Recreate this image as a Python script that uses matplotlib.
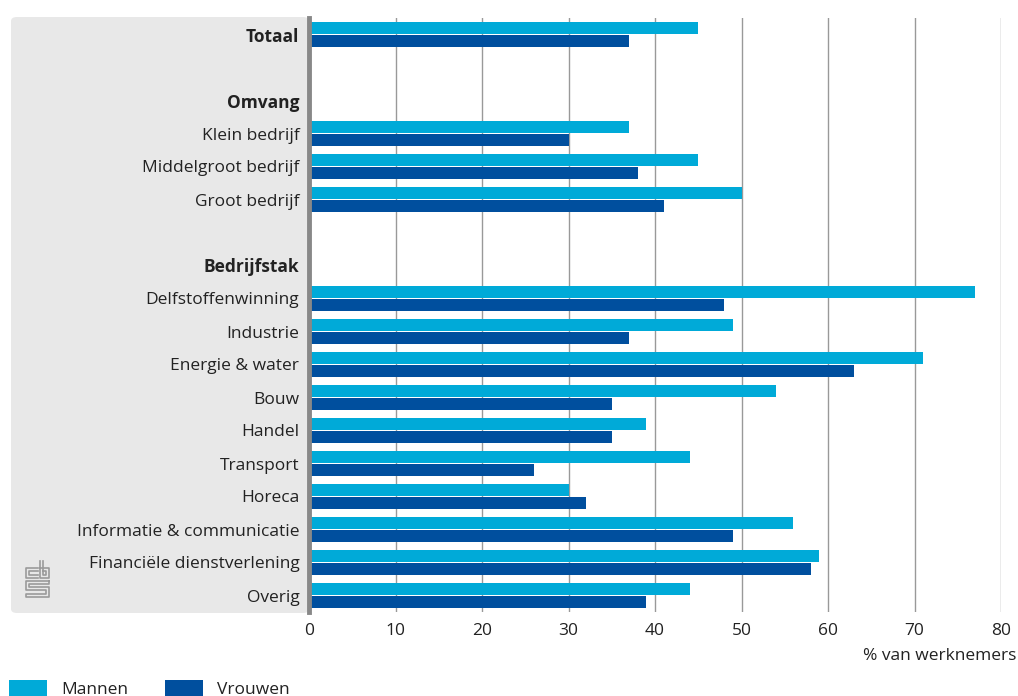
import matplotlib
matplotlib.use("Agg")
import matplotlib.pyplot as plt
from matplotlib.patches import FancyBboxPatch
from matplotlib.lines import Line2D
import numpy as np

plt.rcParams['font.family'] = ['Open Sans', 'DejaVu Sans']

# rows top to bottom; '' = empty row, headers in bold
labels = ['Totaal', '', 'Omvang', 'Klein bedrijf', 'Middelgroot bedrijf', 'Groot bedrijf',
          '', 'Bedrijfstak', 'Delfstoffenwinning', 'Industrie', 'Energie & water', 'Bouw',
          'Handel', 'Transport', 'Horeca', 'Informatie & communicatie',
          'Financiële dienstverlening', 'Overig']
headers = ['Totaal', 'Omvang', 'Bedrijfstak']
mannen = [45, None, None, 37, 45, 50, None, None, 77, 49, 71, 54, 39, 44, 30, 56, 59, 44]
vrouwen = [37, None, None, 30, 38, 41, None, None, 48, 37, 63, 35, 35, 26, 32, 49, 58, 39]

c_man = '#00aad8'
c_vrouw = '#004f9e'

W, H = 1018, 696
fig = plt.figure(figsize=(W / 100, H / 100), dpi=100)

# grey label panel
panel = FancyBboxPatch((11 / W, 1 - 613 / H), (309 - 11) / W, (613 - 17) / H,
                       boxstyle='round,pad=0,rounding_size=0.006',
                       transform=fig.transFigure, facecolor='#e8e8e8',
                       edgecolor='none', zorder=-5)
fig.patches.append(panel)

ax = fig.add_axes([309 / W, 1 - 612 / H, (1001 - 309) / W, (612 - 18) / H])
ax.set_facecolor('none')

y = np.arange(len(labels))
bh = 0.38
for i in range(len(labels)):
    if mannen[i] is not None:
        ax.barh(y[i] - 0.2, mannen[i], height=bh, color=c_man, zorder=3,
                label='Mannen' if i == 0 else None)
        ax.barh(y[i] + 0.2, vrouwen[i], height=bh, color=c_vrouw, zorder=3,
                label='Vrouwen' if i == 0 else None)

ax.set_xlim(0, 80)
ax.set_ylim(len(labels) - 0.5, -0.5)
ax.set_xticks(range(0, 81, 10))
ax.set_yticks(y)
ax.set_yticklabels(labels)
for t in ax.get_yticklabels():
    if t.get_text() in headers:
        t.set_fontweight('bold')
        t.set_color('#111111')
ax.tick_params(axis='y', length=0, pad=7, labelsize=12.5, labelcolor='#222222')
ax.tick_params(axis='x', length=0, pad=8, labelsize=12.5, labelcolor='#222222')
ax.grid(axis='x', color='#999999', linewidth=1.0, zorder=1)
for s in ['top', 'right', 'bottom']:
    ax.spines[s].set_visible(False)
ax.spines['left'].set_color('#888888')
ax.spines['left'].set_linewidth(3.5)
ax.spines['left'].set_zorder(4)

fig.text(1016 / W, 1 - 656 / H, '% van werknemers', ha='right', va='center',
         fontsize=12.5, color='#222222')

# legend at bottom-left
fig.legend(loc='upper left', bbox_to_anchor=(9 / W, 1 - 680 / H), ncol=2,
           frameon=False, fontsize=12.5, handlelength=2.2, handleheight=1.0,
           handletextpad=0.8, columnspacing=2.1, borderpad=0, borderaxespad=0,
           labelcolor='#222222')

# cbs logo (simplified)
lc = '#9a9a9a'
def seg(xs, ys):
    fig.add_artist(Line2D([v / W for v in xs], [1 - v / H for v in ys],
                          color=lc, linewidth=1.2, transform=fig.transFigure))
# c
seg([38, 26, 26, 38], [568, 568, 578, 578])
seg([38, 29, 29, 38], [571, 571, 575, 575])
# b
seg([40, 40, 49, 49, 40], [561, 578, 578, 568, 568])
seg([43, 43, 46, 46, 43], [561, 575, 575, 571, 571])
# s
seg([49, 26, 26, 46, 46, 26, 26, 49, 49, 29, 29, 49, 49], [581, 581, 590, 590, 594, 594, 597, 597, 587, 587, 584, 584, 581])

fig.savefig('out.png', dpi=100)
